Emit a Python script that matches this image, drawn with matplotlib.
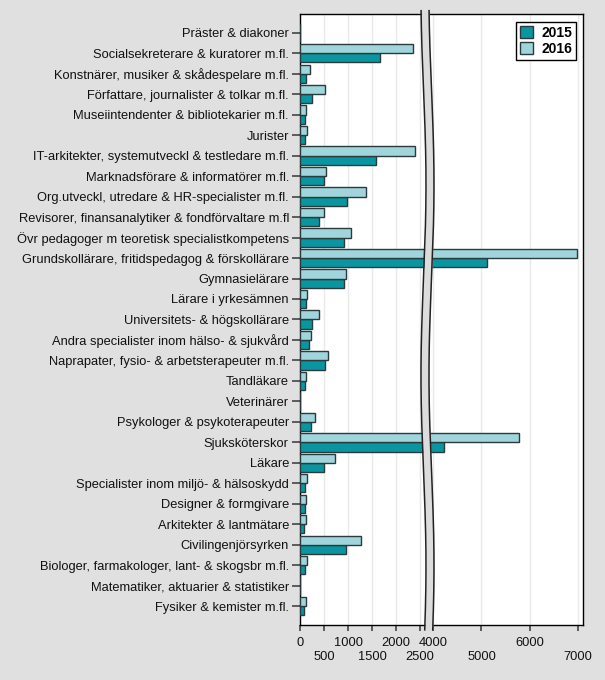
import numpy as np
import matplotlib
matplotlib.use('Agg')
import matplotlib.pyplot as plt
from matplotlib.patches import Patch

# --- Data ---
categories = [
    'Präster & diakoner',
    'Socialsekreterare & kuratorer m.fl.',
    'Konstnärer, musiker & skådespelare m.fl.',
    'Författare, journalister & tolkar m.fl.',
    'Museiintendenter & bibliotekarier m.fl.',
    'Jurister',
    'IT-arkitekter, systemutveckl & testledare m.fl.',
    'Marknadsförare & informatörer m.fl.',
    'Org.utveckl, utredare & HR-specialister m.fl.',
    'Revisorer, finansanalytiker & fondförvaltare m.fl',
    'Övr pedagoger m teoretisk specialistkompetens',
    'Grundskollärare, fritidspedagog & förskollärare',
    'Gymnasielärare',
    'Lärare i yrkesämnen',
    'Universitets- & högskollärare',
    'Andra specialister inom hälso- & sjukvård',
    'Naprapater, fysio- & arbetsterapeuter m.fl.',
    'Tandläkare',
    'Veterinärer',
    'Psykologer & psykoterapeuter',
    'Sjuksköterskor',
    'Läkare',
    'Specialister inom miljö- & hälsoskydd',
    'Designer & formgivare',
    'Arkitekter & lantmätare',
    'Civilingenjörsyrken',
    'Biologer, farmakologer, lant- & skogsbr m.fl.',
    'Matematiker, aktuarier & statistiker',
    'Fysiker & kemister m.fl.',
]
values_2015 = [3, 1660, 131, 243, 104, 111, 1577, 500, 979, 389, 910, 5125, 910, 125,
               250, 181, 514, 104, 5, 236, 4229, 507, 97, 97, 83, 951, 97, 5, 76]
values_2016 = [3, 2360, 208, 514, 125, 139, 2403, 549, 1368, 493, 1070, 6990, 958, 140,
               389, 222, 590, 132, 5, 306, 5783, 736, 139, 118, 118, 1264, 153, 5, 118]
ticks_upper = [0, 1000, 2000, 4000, 6000]   # first row of tick labels
ticks_lower = [500, 1500, 2500, 5000, 7000]  # second (staggered) row

# --- Broken x scale: 0..2580 and 3950..7120 with a small compressed gap ---
B1, B2, G = 2580.0, 3950.0, 150.0


def fwd(x):
    x = np.asarray(x, dtype=float)
    return np.where(x <= B1, x,
                    np.where(x >= B2, x - (B2 - B1) + G, B1 + (x - B1) * G / (B2 - B1)))


def inv(y):
    y = np.asarray(y, dtype=float)
    return np.where(y <= B1, y,
                    np.where(y >= B1 + G, y + (B2 - B1) - G, B1 + (y - B1) * (B2 - B1) / G))


plt.rcParams['font.family'] = ['Liberation Sans', 'DejaVu Sans']

C2015 = '#0a96a0'
C2016 = '#9fd5db'
EDGE = '#2b3b3d'
FS = 9.3

fig = plt.figure(figsize=(6.05, 6.8), dpi=100, facecolor='#e0e0e0')
ax = fig.add_axes([0.4959, 0.0809, 0.4682, 0.898])
ax.set_facecolor('white')
ax.set_xscale('function', functions=(fwd, inv))

y = np.arange(len(categories))
h = 0.45
ax.barh(y + h / 2, values_2015, height=h, color=C2015, edgecolor=EDGE, linewidth=1.0,
        label='2015', zorder=3)
ax.barh(y - h / 2, values_2016, height=h, color=C2016, edgecolor=EDGE, linewidth=1.0,
        label='2016', zorder=3)

ax.set_xlim(0, 7120)
ax.set_ylim(len(categories) - 1 + 0.92, -0.9)

ax.set_yticks(y)
ax.set_yticklabels(categories, fontsize=FS, color='#111111')
ax.tick_params(axis='y', length=6, width=1.2, color='#444444', pad=2)

ax.set_xticks(ticks_upper)
ax.set_xticklabels([str(v) for v in ticks_upper], fontsize=FS, color='#111111')
ax.set_xticks(ticks_lower, minor=True)
ax.set_xticklabels([str(v) for v in ticks_lower], minor=True, fontsize=FS, color='#111111')
ax.tick_params(axis='x', which='major', length=4, width=1.2, color='#444444', pad=5)
ax.tick_params(axis='x', which='minor', length=4, width=1.2, color='#444444', pad=15)
ax.xaxis.grid(True, which='both', color='#e9e9e9', linewidth=1.0, zorder=0)
ax.set_axisbelow(True)
for s in ax.spines.values():
    s.set_color('black')
    s.set_linewidth(1.0)

# --- Break band (wavy grey strip over the gap) ---
xc = float(fwd(B1 + (B2 - B1) / 2) / fwd(7120))
w = 8.0 / (0.4682 * 605)
t = np.linspace(-0.008, 1.006, 200)
shift = 2.5 / (0.4682 * 605) * np.sin(2 * np.pi * t * 1.6 + 0.6)
left = xc - w / 2 + shift
right = xc + w / 2 + shift
ax.fill_betweenx(t, left, right, transform=ax.transAxes, color='#dcdcdc', zorder=5,
                 clip_on=False, linewidth=0)
ax.plot(left, t, transform=ax.transAxes, color='#222222', lw=1.1, zorder=6, clip_on=False)
ax.plot(right, t, transform=ax.transAxes, color='#222222', lw=1.1, zorder=6, clip_on=False)

handles = [Patch(facecolor=C2015, edgecolor=EDGE, label='2015'),
           Patch(facecolor=C2016, edgecolor=EDGE, label='2016')]
leg = ax.legend(handles=handles, loc='upper right', bbox_to_anchor=(0.975, 0.988),
                prop={'weight': 'bold', 'size': 10}, fancybox=False, framealpha=1,
                edgecolor='black', handlelength=0.9, handleheight=0.9, borderpad=0.3,
                labelspacing=0.15, handletextpad=0.6, borderaxespad=0)
leg.get_frame().set_linewidth(1.0)
leg.set_zorder(10)

fig.savefig('out.png', dpi=100, facecolor=fig.get_facecolor())
